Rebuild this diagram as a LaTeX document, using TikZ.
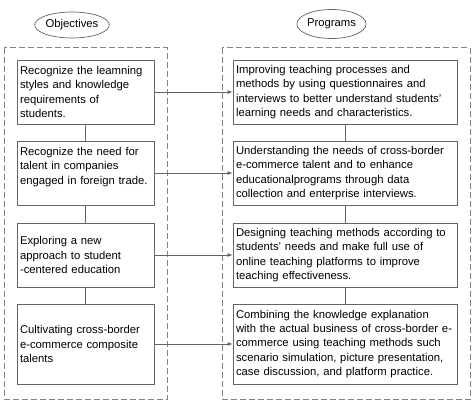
\documentclass[tikz,border=0pt]{standalone}
\usepackage{fontspec}
\setmainfont{Liberation Sans}
\usepackage{xcolor}
\usepackage{tikz}
\usetikzlibrary{shapes.geometric, arrows.meta}

\definecolor{linegray}{RGB}{100,100,100}
\definecolor{dashgray}{RGB}{130,130,130}

\tikzset{
  objbox/.style={draw=linegray, line width=0.8pt, rectangle, align=left, inner xsep=3pt, inner ysep=2pt,
    text width=131pt, minimum height=64pt},
  progbox/.style={objbox, text width=218pt},
  header/.style={draw=linegray, line width=0.7pt, ellipse, inner sep=0pt},
  frame/.style={draw=dashgray, line width=0.8pt, dash pattern=on 6pt off 3pt}
}

\begin{document}
\begin{tikzpicture}[x=1pt, y=-1pt, font=\fontsize{11.3}{14.4}\selectfont]
        \useasboundingbox (0,0) rectangle (474,402);

        % Headers
        \node[header, minimum width=64pt, minimum height=26pt] (objectives) at (72,25) {Objectives};
        \node[header, minimum width=63pt, minimum height=29pt] (programs) at (331.5,24) {Programs};

        % Dashed frames
        \draw[frame] (4,47.5) rectangle (167,399);
        \draw[frame] (222,47.5) rectangle (470,399);

        % Objectives
        \node[objbox] (o1) at (85.5,92) {Recognize the leamning\\styles and knowledge\\requirements of\\students.};
        \node[objbox] (o2) at (85.5,173) {Recognize the need for\\talent in companies\\engaged in foreign trade.\\\mbox{}};
        \node[objbox] (o3) at (85.5,255) {Exploring a new\\approach to student\\-centered education};
        \node[objbox, minimum height=80pt] (o4) at (85.5,344) {Cultivating cross-border\\e-commerce composite\\talents};

        % Programs
        \node[progbox] (p1) at (345,92) {Improving teaching processes and\\methods by using questionnaires and\\interviews to better understand students'\\learning needs and characteristics.};
        \node[progbox] (p2) at (345,173) {Understanding the needs of cross-border\\e-commerce talent and to enhance\\educationalprograms through data\\collection and enterprise interviews.};
        \node[progbox] (p3) at (345,255) {Designing teaching methods according to\\students' needs and make full use of\\online teaching platforms to improve\\teaching effectiveness.};
        \node[progbox, minimum height=80pt] (p4) at (345,344) {Combining the knowledge explanation\\with the actual business of cross-border e-\\commerce using teaching methods such\\scenario simulation, picture presentation,\\case discussion, and platform practice.};

        % Links
        \foreach \i/\j in {1/2, 2/3, 3/4} {
          \draw[linegray, line width=0.8pt] (o\i) -- (o\j);
          \draw[linegray, line width=0.8pt] (p\i) -- (p\j);
        }
        \foreach \i in {1,...,4} {
          \draw[linegray, line width=0.8pt, -{Latex[length=5pt, width=4pt]}] (o\i) -- (p\i);
        }
      \end{tikzpicture}
\end{document}
